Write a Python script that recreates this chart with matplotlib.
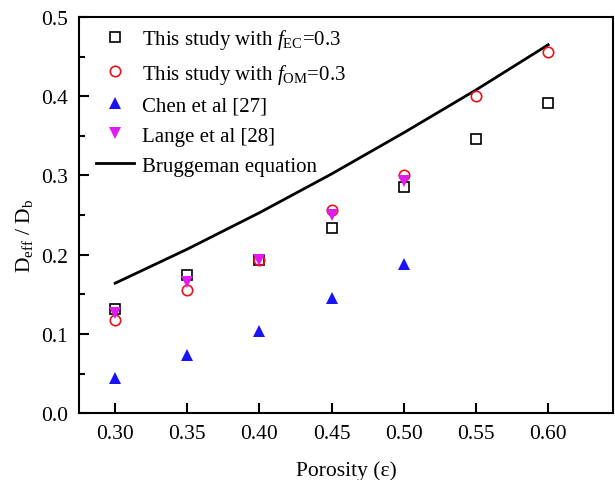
import matplotlib.pyplot as plt

plt.rcParams['font.family'] = ['Liberation Serif', 'DejaVu Serif']
plt.rcParams['mathtext.fontset'] = 'custom'
plt.rcParams['mathtext.rm'] = 'Liberation Serif'
plt.rcParams['mathtext.it'] = 'Liberation Serif:italic'

# data
porosity = [0.30, 0.35, 0.40, 0.45, 0.50, 0.55, 0.60]
study_ec = [0.132, 0.174, 0.193, 0.234, 0.285, 0.346, 0.391]
study_om = [0.118, 0.156, 0.193, 0.257, 0.300, 0.400, 0.456]
chen_x = [0.30, 0.35, 0.40, 0.45, 0.50]
chen = [0.044, 0.073, 0.104, 0.145, 0.188]
lange_x = [0.30, 0.35, 0.40, 0.45, 0.50]
lange = [0.126, 0.165, 0.193, 0.250, 0.293]
bruggeman = [0.164, 0.207, 0.253, 0.302, 0.354, 0.408, 0.465]

fig = plt.figure(figsize=(6.15, 4.81), dpi=100)
ax = fig.add_axes([0.1285, 0.139, 0.8685, 0.8235])

ax.plot(porosity, study_ec, 's', mfc='none', mec='black', mew=1.2, ms=6.5,
        label=r'This study with $\mathit{f}_{\rm EC}$=0.3', zorder=3)
ax.plot(porosity, study_om, 'o', mfc='none', mec='#e8141c', mew=1.2, ms=7.5,
        label=r'This study with $\mathit{f}_{\rm OM}$=0.3', zorder=3)
ax.plot(chen_x, chen, '^', color='#1a14f5', ms=9, mew=0,
        label='Chen et al [27]', zorder=2)
ax.plot(lange_x, lange, 'v', color='#e01cf0', ms=9, mew=0,
        label='Lange et al [28]', zorder=4)
ax.plot(porosity, bruggeman, '-', color='black', lw=2,
        label='Bruggeman equation', zorder=1)

ax.set_xlim(0.275, 0.645)
ax.set_ylim(0, 0.5)
ax.set_xticks(porosity)
ax.set_xticklabels([f'{v:.2f}' for v in porosity])
ax.set_yticks([0.0, 0.1, 0.2, 0.3, 0.4, 0.5])
ax.set_yticks([0.05, 0.15, 0.25, 0.35, 0.45], minor=True)
ax.tick_params(axis='both', which='major', direction='in', length=7, width=1.5,
               labelsize=15.5, pad=8)
ax.tick_params(axis='y', which='minor', direction='in', length=4, width=1.5)
for s in ax.spines.values():
    s.set_linewidth(1.5)

ax.set_xlabel('Porosity (ε)', fontsize=15.5, labelpad=12)
ax.set_ylabel(r'D$_{\rm eff}$ / D$_{\rm b}$', fontsize=15.5)
ax.yaxis.set_label_coords(-0.082, 0.45)

ax.legend(loc='upper left', frameon=False, fontsize=15, handlelength=1.8,
          handletextpad=0.4, labelspacing=0.5, borderaxespad=0.0,
          bbox_to_anchor=(0.017, 0.995))

fig.savefig('out.png', dpi=100)
